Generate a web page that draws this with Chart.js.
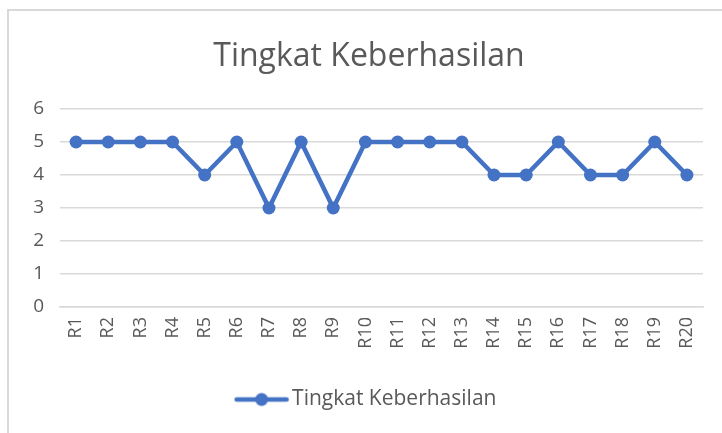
<!DOCTYPE html>
<html>
<head>
<meta charset="utf-8">
<script src="https://cdn.jsdelivr.net/npm/chart.js@4/dist/chart.umd.min.js"></script>
<style>
  html, body { margin: 0; padding: 0; background: #ffffff; overflow: hidden; }
  #frame { position: absolute; left: 7px; top: 9px; width: 800px; height: 500px; border: 2px solid #d9d9d9; box-sizing: border-box; }
  #wrap { position: absolute; left: 0; top: 0; width: 722px; height: 433px; }
</style>
</head>
<body>
<div id="frame"></div>
<div id="wrap"><canvas id="c" width="722" height="433"></canvas></div>
<script>
const chartTitle = "Tingkat Keberhasilan";
const seriesName = "Tingkat Keberhasilan";
const categories = ["R1","R2","R3","R4","R5","R6","R7","R8","R9","R10","R11","R12","R13","R14","R15","R16","R17","R18","R19","R20"];
const values = [5,5,5,5,4,5,3,5,3,5,5,5,5,4,4,5,4,4,5,4];
const yMin = 0, yMax = 6, yStep = 1;

const BLUE = "#4472C4";
const TEXT = "#595959";
const GRID = "#d9d9d9";
const FONT = "'Open Sans', 'Noto Sans', sans-serif";

// legend marker: line with a circle
const marker = document.createElement("canvas");
marker.width = 56; marker.height = 16;
(function(){
  const g = marker.getContext("2d");
  g.strokeStyle = BLUE; g.lineWidth = 4.5; g.lineCap = "round";
  g.beginPath(); g.moveTo(3, 8); g.lineTo(53, 8); g.stroke();
  g.fillStyle = BLUE; g.beginPath(); g.arc(28, 8, 6.5, 0, Math.PI*2); g.fill();
})();

new Chart(document.getElementById("c"), {
  type: "line",
  data: {
    labels: categories,
    datasets: [{
      label: seriesName,
      data: values,
      borderColor: BLUE,
      backgroundColor: BLUE,
      borderWidth: 4.5,
      pointRadius: 6.5,
      pointHoverRadius: 6.5,
      pointBackgroundColor: BLUE,
      pointBorderColor: BLUE,
      pointBorderWidth: 0,
      tension: 0,
      fill: false,
      yAxisID: "y"
    }]
  },
  options: {
    responsive: false,
    animation: false,
    devicePixelRatio: 1,
    layout: { padding: { left: 16, right: 0, top: 0, bottom: 13 } },
    plugins: {
      title: {
        display: true,
        text: chartTitle,
        color: TEXT,
        font: { family: FONT, size: 32, weight: "normal" },
        padding: { top: 38, bottom: 32.6 }
      },
      legend: {
        display: true,
        position: "bottom",
        labels: {
          color: TEXT,
          font: { family: FONT, size: 21 },
          usePointStyle: true,
          pointStyle: marker,
          pointStyleWidth: 40,
          boxHeight: 16,
          padding: 10
        }
      },
      tooltip: { enabled: false }
    },
    scales: {
      x: {
        offset: true,
        grid: { display: false, drawTicks: false },
        border: { display: true, color: GRID, width: 1.5 },
        ticks: {
          color: TEXT,
          font: { family: FONT, size: 18 },
          minRotation: 90, maxRotation: 90,
          autoSkip: false,
          padding: 10
        },
        afterFit: (s) => { s.height = 72; }
      },
      y: {
        position: "left",
        min: yMin, max: yMax,
        grid: { color: GRID, lineWidth: 1.5, drawTicks: false },
        border: { display: false },
        ticks: {
          stepSize: yStep,
          color: TEXT,
          font: { family: FONT, size: 19 },
          padding: 16
        },
        afterFit: (s) => { s.width = 44; }
      },
      yRight: {
        position: "right",
        display: true,
        grid: { display: false, drawTicks: false },
        border: { display: false },
        ticks: { display: false },
        afterFit: (s) => { s.width = 19; }
      }
    }
  }
});
</script>
</body>
</html>
